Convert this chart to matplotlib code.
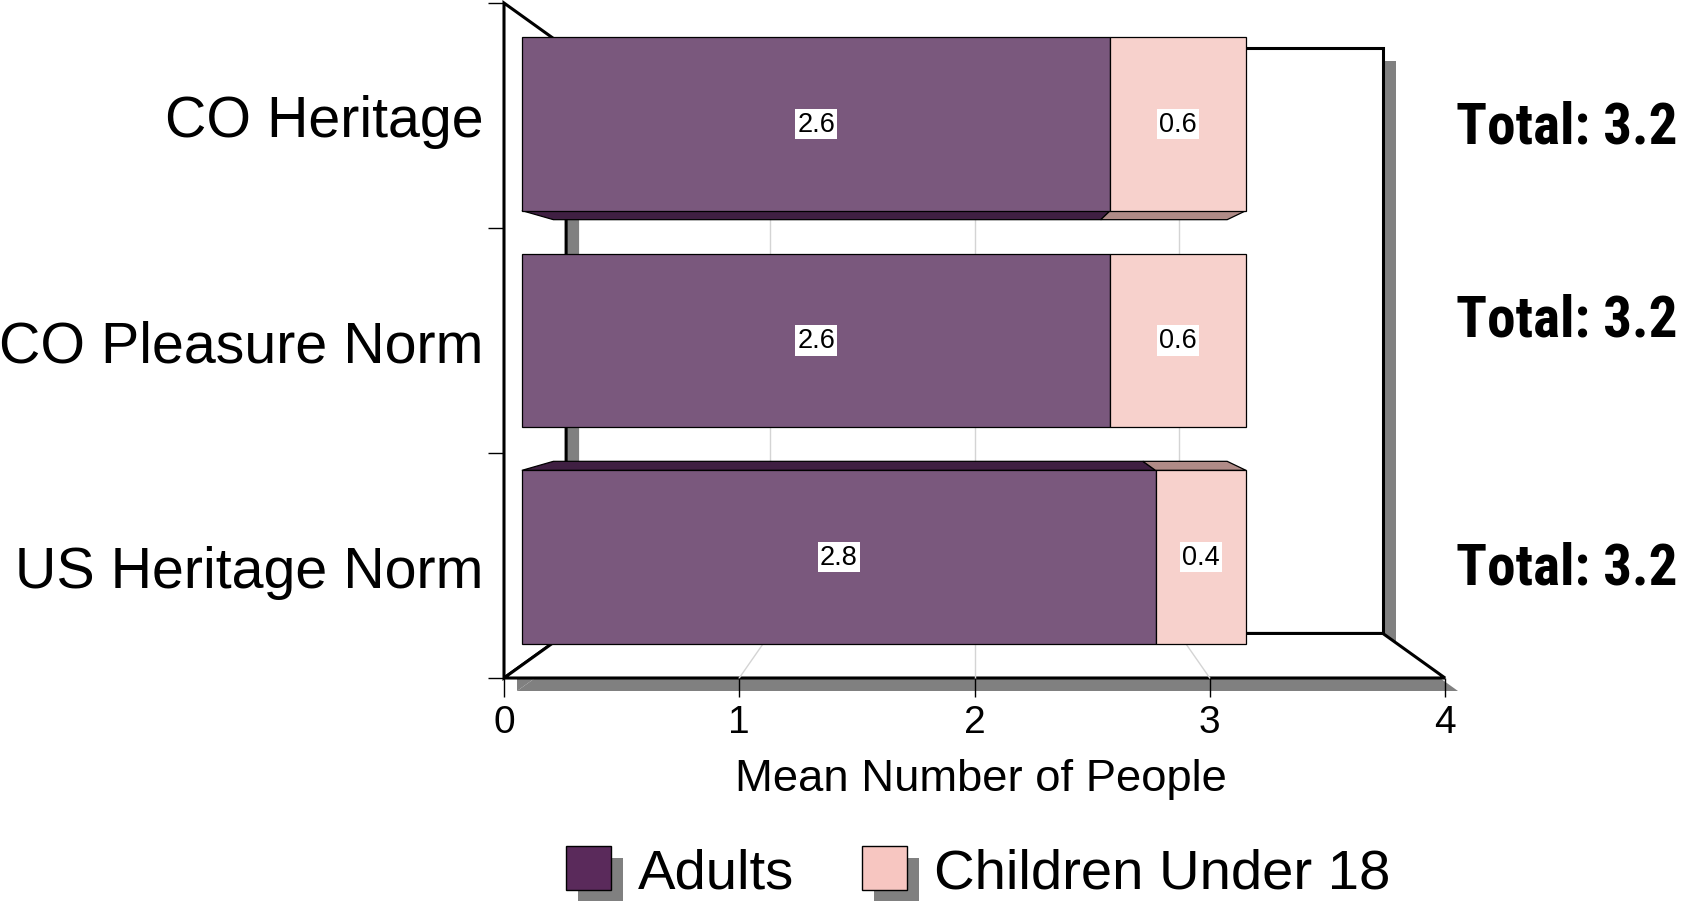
import matplotlib
matplotlib.use("Agg")
import matplotlib.pyplot as plt
from matplotlib import font_manager as fm
from matplotlib.patches import Polygon, Rectangle, Patch
from matplotlib.lines import Line2D
from matplotlib.transforms import ScaledTranslation
from matplotlib.legend_handler import HandlerBase

# ---- data -------------------------------------------------------------
categories = ["CO Heritage", "CO Pleasure Norm", "US Heritage Norm"]
adults = [2.6, 2.6, 2.8]
children = [0.6, 0.6, 0.4]
series_names = ["Adults", "Children Under 18"]
x_ticks = [0, 1, 2, 3, 4]
x_title = "Mean Number of People"

# ---- style ------------------------------------------------------------
FRONT = ["#7a587d", "#f7d1cc"]      # lit front faces
SIDE = ["#3f1f42", "#b08b87"]       # top / bottom faces
LEGEND = ["#5a2a5b", "#f7c6c1"]
SHADOW = "#808080"
GRID = "#d4d4d4"
REG = ["Liberation Sans", "DejaVu Sans"]


def installed(name):
    try:
        fm.findfont(fm.FontProperties(family=name), fallback_to_default=False)
        return True
    except ValueError:
        return False


CONDENSED = [f for f in ["Liberation Sans Narrow", "Roboto Condensed", "Open Sans Condensed"]
             if installed(f)] + REG

# perspective: vanishing point and depth factors (1 = front plane)
VX, VY = 2.0, 1.5
K_FRONT, K_BACK, K_WALL = 0.962, 0.895, 0.868
BAR_H = 0.8
XMAX, YMAX = 4, len(categories)

W, H = 1682, 904
fig = plt.figure(figsize=(W / 100, H / 100), dpi=100)
ax = fig.add_axes([504 / W, 1 - 679 / H, 941 / W, 675 / H])
ax.set_xlim(0, XMAX)
ax.set_ylim(0, YMAX)
for s in ax.spines.values():
    s.set_visible(False)
ax.patch.set_visible(False)


def proj(x, y, k):
    return (VX + (x - VX) * k, VY + (y - VY) * k)


shadow_tr = ax.transData + ScaledTranslation(13 / 100, -13 / 100, fig.dpi_scale_trans)


def add_poly(pts, z, fc, ec="black", lw=0.0, tr=None):
    p = Polygon(pts, closed=True, facecolor=fc, edgecolor=ec, linewidth=lw,
                zorder=z, clip_on=False, joinstyle="miter")
    if tr is not None:
        p.set_transform(tr)
    ax.add_patch(p)
    return p


back_wall = [proj(0, 0, K_WALL), proj(XMAX, 0, K_WALL),
             proj(XMAX, YMAX, K_WALL), proj(0, YMAX, K_WALL)]
left_wall = [(0, 0), (0, YMAX), proj(0, YMAX, K_WALL), proj(0, 0, K_WALL)]
floor = [(0, 0), (XMAX, 0), proj(XMAX, 0, K_WALL), proj(0, 0, K_WALL)]

add_poly(back_wall, 0.50, SHADOW, ec="none", tr=shadow_tr)
add_poly(back_wall, 0.55, "white", lw=2.2)
for xv in x_ticks[1:-1]:
    (x0, y0), (x1, y1) = proj(xv, 0, K_WALL), proj(xv, YMAX, K_WALL)
    ax.add_line(Line2D([x0, x1], [y0, y1], color=GRID, lw=1, zorder=0.6, clip_on=False))
add_poly(left_wall, 0.70, SHADOW, ec="none", tr=shadow_tr)
add_poly(left_wall, 0.75, "white", lw=2.2)
add_poly(floor, 0.80, SHADOW, ec="none", tr=shadow_tr)
add_poly(floor, 0.85, "white", lw=2.2)
for xv in x_ticks[1:-1]:
    (x1, y1) = proj(xv, 0, K_WALL)
    ax.add_line(Line2D([xv, x1], [0, y1], color=GRID, lw=1, zorder=0.9, clip_on=False))

# ---- stacked 3D bars ---------------------------------------------------
n = len(categories)
for i, cat in enumerate(categories):
    yc = n - 1 - i + 0.5
    y0, y1 = yc - BAR_H / 2, yc + BAR_H / 2
    segs = [(0, adults[i]), (adults[i], adults[i] + children[i])]
    for j, (L, R) in enumerate(segs):
        if y1 < VY:   # top face visible
            add_poly([proj(L, y1, K_FRONT), proj(R, y1, K_FRONT),
                      proj(R, y1, K_BACK), proj(L, y1, K_BACK)], 3, SIDE[j], lw=0.9)
        if y0 > VY:   # bottom face visible
            add_poly([proj(L, y0, K_FRONT), proj(R, y0, K_FRONT),
                      proj(R, y0, K_BACK), proj(L, y0, K_BACK)], 3, SIDE[j], lw=0.9)
        add_poly([proj(L, y0, K_FRONT), proj(R, y0, K_FRONT),
                  proj(R, y1, K_FRONT), proj(L, y1, K_FRONT)], 4, FRONT[j], lw=0.9)
        tx, ty = proj((L + R) / 2, yc, K_FRONT)
        ax.text(tx, ty, f"{R - L:.1f}", ha="center", va="center", fontsize=19.5,
                family=REG, zorder=6,
                bbox=dict(boxstyle="square,pad=0.08", fc="white", ec="none"))

# totals to the right of the chart, fitted to a fixed text width
total_x = 4.045
total_baseline = [2.382, 1.52, 0.422]
total_width_px = 222
renderer = fig.canvas.get_renderer()
for i in range(n):
    t = ax.text(total_x, total_baseline[i], f"Total: {adults[i] + children[i]:.1f}",
                ha="left", va="baseline", fontsize=44, fontweight="bold",
                family=CONDENSED, clip_on=False)
    w = t.get_window_extent(renderer).width
    t.set_fontsize(44 * total_width_px / w)

# ---- axes ticks and labels --------------------------------------------
ax.set_xticks(x_ticks)
ax.set_xticklabels([str(t) for t in x_ticks], family=REG, fontsize=28)
ax.tick_params(axis="x", direction="out", length=13.7, width=1, pad=5, colors="black")
ax.set_yticks(range(YMAX + 1))
ax.set_yticklabels([])
ax.tick_params(axis="y", which="major", direction="out", length=11.5, width=1)
ax.set_yticks([n - 1 - i + 0.5 for i in range(n)], minor=True)
ax.set_yticklabels(categories, minor=True, family=REG, fontsize=41.3)
ax.tick_params(axis="y", which="minor", length=0, pad=15)

ax.set_xlabel(x_title, family=REG, fontsize=32.7)
ax.xaxis.set_label_coords((981 - 504) / 941, (679 - 780) / 675)
ax.xaxis.label.set_verticalalignment("center")


# ---- legend with drop-shadowed swatches --------------------------------
class ShadowSwatch(HandlerBase):
    def create_artists(self, legend, orig_handle, xdescent, ydescent,
                       width, height, fontsize, trans):
        off = 8.6
        sh = Rectangle((-xdescent + off, -ydescent - off), width, height,
                       facecolor=SHADOW, edgecolor="none", transform=trans)
        sw = Rectangle((-xdescent, -ydescent), width, height,
                       facecolor=orig_handle.get_facecolor(), edgecolor="black",
                       linewidth=1, transform=trans)
        return [sh, sw]


handles = [Patch(facecolor=LEGEND[k], label=series_names[k]) for k in range(2)]
fig.legend(handles=handles, loc="center left", bbox_to_anchor=(566 / W, 1 - 874 / H),
           ncol=2, frameon=False, prop={"family": REG, "size": 40.5},
           handlelength=0.8, handleheight=0.8, handletextpad=0.48,
           columnspacing=1.2, borderpad=0, borderaxespad=0,
           handler_map={Patch: ShadowSwatch()})

fig.savefig("out.png", dpi=100)
